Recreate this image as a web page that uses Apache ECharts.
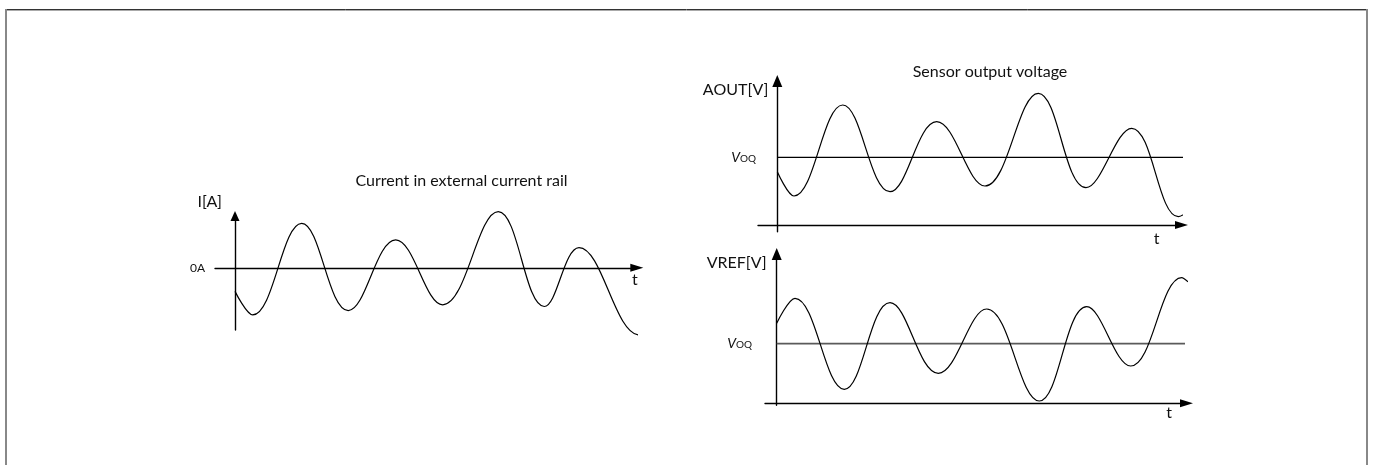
<!DOCTYPE html>
<html>
<head>
<meta charset="utf-8">
<script src="https://cdn.jsdelivr.net/npm/echarts@6/dist/echarts.min.js"></script>
<style>
  html, body { margin: 0; padding: 0; background: #fff; }
  #chart { width: 1375px; height: 465px; }
</style>
</head>
<body>
<div id="chart"></div>
<script>
// Rail current I [A] against time: start, successive peaks and troughs, end
const railT = [0, 1.77, 6.67, 11.33, 16.07, 20.77, 26.33, 30.93, 34.4, 40.45, 40.85];
const railI = [-2.34, -4.67, 4.4, -4.24, 2.76, -3.67, 5.56, -3.84, 2.0, -6.67, -6.32];

// Sensor output AOUT [V]: follows the rail current around the quiescent level
const aoutT = [0, 1.67, 6.54, 11.27, 15.94, 20.77, 26.1, 30.87, 35.44, 40.1, 41.07];
const aoutV = [5.33, 2.9, 12.0, 3.33, 10.33, 3.9, 13.17, 3.73, 9.67, 0.83, 1.33];
const aoutVoq = 6.77;
const aoutVoqSpan = [0, 40.94];

// Reference output VREF [V]: mirrored around its quiescent level
const vrefT = [0, 1.83, 6.76, 11.33, 16.16, 21.0, 26.26, 31.0, 35.4, 40.5, 41.13];
const vrefV = [8.0, 10.5, 1.4, 10.06, 3.0, 9.43, 0.23, 9.66, 3.73, 12.56, 12.16];
const vrefVoq = 5.96;
const vrefVoqSpan = [0, 40.83];

// Axis ranges per panel: [tMin, tMax, yMin, yMax]
const railRange = [-2.0, 40.18, -6.17, 5.13];
const aoutRange = [-1.93, 40.42, -0.67, 14.4];
const vrefRange = [-1.17, 40.98, -0.2, 14.93];

const FONT = 'Lato, "Open Sans", sans-serif';
const INK = '#111';

const pairs = (xs, ys) => xs.map((x, i) => [x, ys[i]]);

function axisLineWith(symbolSize) {
  return {
    show: true, onZero: true,
    lineStyle: { color: '#000', width: 1.4 },
    symbol: ['none', 'triangle'],
    symbolSize
  };
}

function valueAxis(gridIndex, min, max, extra) {
  return Object.assign({
    type: 'value', gridIndex, min, max,
    splitLine: { show: false },
    axisTick: { show: false },
    axisLabel: { show: false },
    axisLine: axisLineWith([9, 13])
  }, extra);
}

function nameStyle(align, verticalAlign, padding) {
  return { fontFamily: FONT, fontSize: 16, color: INK, align, verticalAlign, padding };
}

// V with the "OQ" subscript, placed at the quiescent level on the value axis
function voqLabel(level, margin) {
  return {
    show: true,
    customValues: [level],
    margin,
    formatter: () => '{v|V}{s|OQ}',
    rich: {
      v: { fontFamily: FONT, fontSize: 14, fontStyle: 'italic', color: INK },
      s: { fontFamily: FONT, fontSize: 10, color: INK, padding: [3, 0, 0, 0] }
    }
  };
}

const curve = (xi, data) => ({
  type: 'line', xAxisIndex: xi, yAxisIndex: xi, data,
  smooth: 0.4, showSymbol: false, clip: false, silent: true,
  lineStyle: { color: '#000', width: 1.2 }
});

const option = {
  animation: false,
  backgroundColor: '#fff',
  grid: [
    { left: 215, top: 216, width: 421.8, height: 114 },
    { left: 758, top: 81, width: 423.5, height: 150.7 },
    { left: 765, top: 254, width: 421.5, height: 151.3 }
  ],
  xAxis: [
    valueAxis(0, railRange[0], railRange[1], {
      axisLine: axisLineWith([8, 13]),
      name: 't', nameLocation: 'end', nameGap: -2,
      nameTextStyle: nameStyle('center', 'top', [4, 0, 0, 0])
    }),
    valueAxis(1, aoutRange[0], aoutRange[1], {
      axisLine: axisLineWith([8, 13]),
      name: 't', nameLocation: 'end', nameGap: -25,
      nameTextStyle: nameStyle('center', 'top', [6, 0, 0, 0])
    }),
    valueAxis(2, vrefRange[0], vrefRange[1], {
      axisLine: axisLineWith([8, 13]),
      name: 't', nameLocation: 'end', nameGap: -17.5,
      nameTextStyle: nameStyle('center', 'top', [2, 0, 0, 0])
    })
  ],
  yAxis: [
    valueAxis(0, railRange[2], railRange[3], {
      axisLine: axisLineWith([9, 10]),
      name: 'I[A]', nameLocation: 'end', nameGap: 14,
      nameTextStyle: nameStyle('right', 'middle', [0, 13, 0, 0]),
      axisLabel: {
        show: true, customValues: [0], margin: 10,
        formatter: () => '0A',
        fontFamily: FONT, fontSize: 12, color: INK
      }
    }),
    valueAxis(1, aoutRange[2], aoutRange[3], {
      axisLine: axisLineWith([10, 12]),
      name: 'AOUT[V]', nameLocation: 'end', nameGap: -9,
      nameTextStyle: nameStyle('right', 'middle', [0, 9, 0, 0]),
      axisLabel: voqLabel(aoutVoq, 2)
    }),
    valueAxis(2, vrefRange[2], vrefRange[3], {
      axisLine: axisLineWith([10, 12]),
      name: 'VREF[V]', nameLocation: 'end', nameGap: -9,
      nameTextStyle: nameStyle('right', 'middle', [0, 10, 0, 0]),
      axisLabel: voqLabel(vrefVoq, 13)
    })
  ],
  series: [
    curve(0, pairs(railT, railI)),
    {
      type: 'line', xAxisIndex: 1, yAxisIndex: 1, silent: true, showSymbol: false,
      data: aoutVoqSpan.map(t => [t, aoutVoq]),
      lineStyle: { color: '#000', width: 1.2 }
    },
    curve(1, pairs(aoutT, aoutV)),
    {
      type: 'line', xAxisIndex: 2, yAxisIndex: 2, silent: true, showSymbol: false,
      data: vrefVoqSpan.map(t => [t, vrefVoq]),
      lineStyle: { color: '#5a5a5a', width: 1.8 }
    },
    curve(2, pairs(vrefT, vrefV))
  ],
  graphic: [
    // page frame: dark top rule, grey side rules
    { type: 'line', silent: true, shape: { x1: 5, y1: 9.5, x2: 1368, y2: 9.5 }, style: { stroke: '#333', lineWidth: 1 } },
    { type: 'line', silent: true, shape: { x1: 5, y1: 10.5, x2: 1368, y2: 10.5 }, style: { stroke: '#aaa', lineWidth: 1 } },
    { type: 'line', silent: true, shape: { x1: 6, y1: 9, x2: 6, y2: 465 }, style: { stroke: '#888', lineWidth: 2 } },
    { type: 'line', silent: true, shape: { x1: 1367, y1: 9, x2: 1367, y2: 465 }, style: { stroke: '#888', lineWidth: 2 } },
    // panel titles
    { type: 'text', silent: true, x: 461.5, y: 180.7,
      style: { text: 'Current in external current rail', align: 'center', verticalAlign: 'middle',
               fontFamily: FONT, fontSize: 16, fill: INK } },
    { type: 'text', silent: true, x: 990, y: 71.7,
      style: { text: 'Sensor output voltage', align: 'center', verticalAlign: 'middle',
               fontFamily: FONT, fontSize: 16, fill: INK } }
  ]
};

const chart = echarts.init(document.getElementById('chart'), null, { renderer: 'canvas' });
chart.setOption(option);
</script>
</body>
</html>
